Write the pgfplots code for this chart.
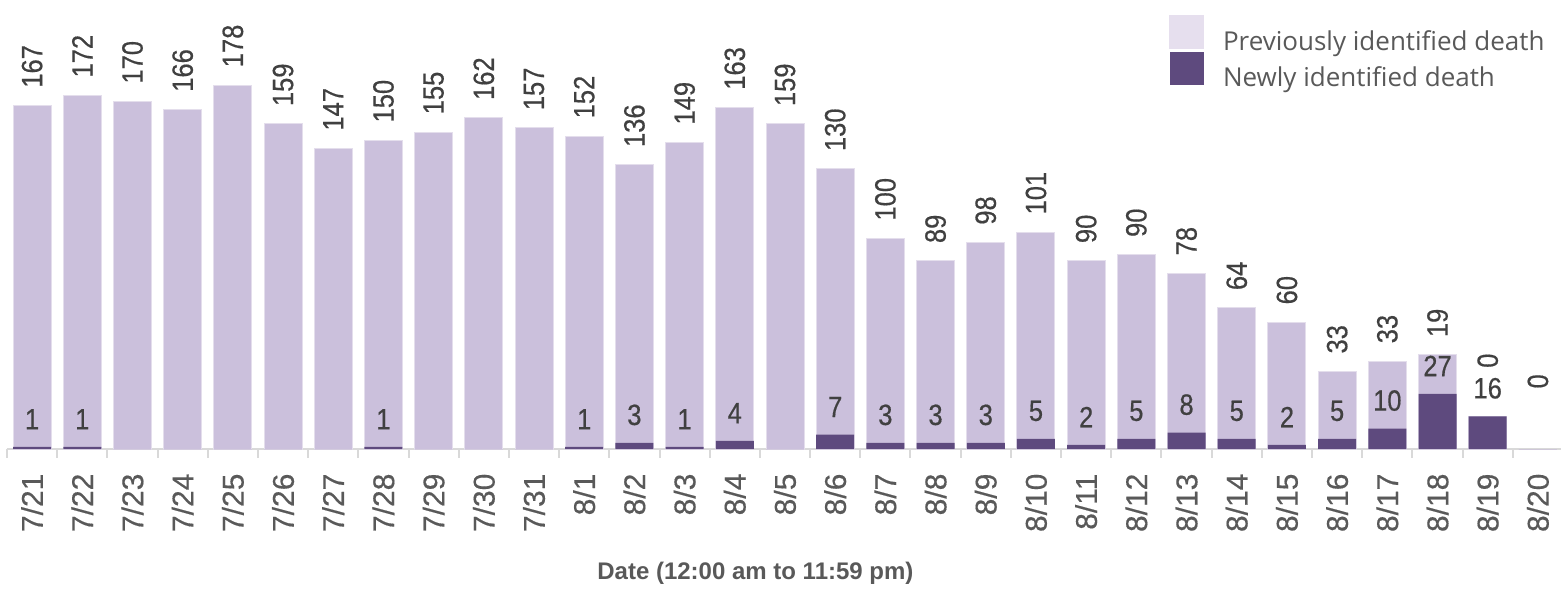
\documentclass[border=0pt]{standalone}
\usepackage{fontspec}
\setmainfont{Liberation Sans}[FakeBold=0]
\newfontfamily\numfont{Liberation Sans}[FakeStretch=0.87, FakeBold=0.5]
\newfontfamily\tickfont{Liberation Sans}[FakeBold=0.4]
\newfontfamily\legfont{Open Sans}
\usepackage{pgfplots}
\usepackage{pgfplotstable}
\pgfplotsset{compat=1.18}
\definecolor{prevc}{HTML}{CBC0DC}
\definecolor{newc}{HTML}{5E4A7E}
\definecolor{legprev}{HTML}{E6DFEE}
\definecolor{barb}{HTML}{E4DEEC}
\definecolor{numc}{HTML}{404040}
\definecolor{tickc}{HTML}{595959}
\definecolor{axc}{HTML}{D9D9D9}
\newcommand\up[2]{\hspace*{#1pt}#2}

\pgfplotstableread{
x new prev nlab plab
0 1 167 1 {\up{13}{167}}
1 1 172 1 {\up{13}{172}}
2 0 170 {} {\up{13}{170}}
3 0 166 {} {\up{13}{166}}
4 0 178 {} {\up{13}{178}}
5 0 159 {} {\up{13}{159}}
6 0 147 {} {\up{13}{147}}
7 1 150 1 {\up{13}{150}}
8 0 155 {} {\up{13}{155}}
9 0 162 {} {\up{13}{162}}
10 0 157 {} {\up{13}{157}}
11 1 152 1 {\up{13}{152}}
12 3 136 3 {\up{13}{136}}
13 1 149 1 {\up{13}{149}}
14 4 163 4 {\up{13}{163}}
15 0 159 {} {\up{13}{159}}
16 7 130 7 {\up{13}{130}}
17 3 100 3 {\up{13}{100}}
18 3 89 3 {\up{13}{89}}
19 3 98 3 {\up{13}{98}}
20 5 101 5 {\up{13}{101}}
21 2 90 2 {\up{13}{90}}
22 5 90 5 {\up{13}{90}}
23 8 78 8 {\up{13}{78}}
24 5 64 5 {\up{13}{64}}
25 2 60 2 {\up{13}{60}}
26 5 33 5 {\up{13}{33}}
27 10 33 10 {\up{13}{33}}
28 27 19 27 {\up{13}{19}}
29 16 0 16 {\up{36}{0}}
30 0 0 {} {\up{45}{0}}
}\data

\begin{document}
\begin{tikzpicture}
\useasboundingbox (0,0) rectangle (1170.75pt,444.75pt);
\begin{axis}[
  at={(5.25pt,108pt)}, anchor=south west,
  scale only axis, width=1167pt, height=336.75pt,
  xmin=-0.5, xmax=30.5, ymin=0, ymax=219.6,
  ybar, bar shift=0pt, bar width=28.5pt,
  axis x line*=bottom, axis y line=none,
  axis line style={axc, line width=1.5pt},
  xtick={0,...,30},
  xticklabels={7/21,7/22,7/23,7/24,7/25,7/26,7/27,7/28,7/29,7/30,7/31,8/1,8/2,8/3,8/4,8/5,8/6,8/7,8/8,8/9,8/10,8/11,8/12,8/13,8/14,8/15,8/16,8/17,8/18,8/19,8/20},
  major x tick style={draw=none},
  minor xtick={-0.5,0.5,...,30.5},
  minor x tick style={axc, line width=1.5pt},
  minor tick length=6.5pt,
  tick align=outside,
  xticklabel shift=14pt,
  xticklabel style={rotate=90, anchor=east, inner sep=0pt, font=\tickfont\fontsize{22.5}{22.5}\selectfont, text=tickc},
  xlabel={Date (12:00 am to 11:59 pm)},
  xlabel style={at={(axis description cs:0.481,0)}, anchor=center, yshift=-93pt, font=\bfseries\fontsize{18}{18}\selectfont, text=tickc},
  legend cell align=left,
  legend style={at={(axis description cs:0.7468,0.9666)}, anchor=north west, draw=none, fill=none,
    inner sep=0pt, outer sep=0pt, row sep=-0.1pt, column sep=14.25pt,
    nodes={inner sep=0pt}, font=\legfont\fontsize{19.5}{19.5}\selectfont, text=tickc},
  clip=false,
]
\addplot[fill=prevc, draw=barb, line width=0.75pt,
  point meta=explicit symbolic,
  nodes near coords,
  nodes near coords style={rotate=90, anchor=west, inner sep=0pt, font=\numfont\fontsize{22}{22}\selectfont, text=numc},
  legend image code/.code={\fill[legprev] (0pt,-5.5pt) rectangle (25.5pt,19.25pt);}
] table[x=x, y expr=\thisrow{new}+\thisrow{prev}, meta=plab] {\data};
\addlegendentry{Previously identified death}
\addplot[fill=newc, draw=none,
  point meta=explicit symbolic,
  nodes near coords,
  nodes near coords style={anchor=south, inner xsep=0pt, inner ysep=13pt, font=\numfont\fontsize{22}{22}\selectfont, text=numc},
  legend image code/.code={\fill[newc] (0pt,-5.5pt) rectangle (25.5pt,19.25pt);}
] table[x=x, y=new, meta=nlab] {\data};
\addlegendentry{Newly identified death}
\end{axis}
\end{tikzpicture}
\end{document}
